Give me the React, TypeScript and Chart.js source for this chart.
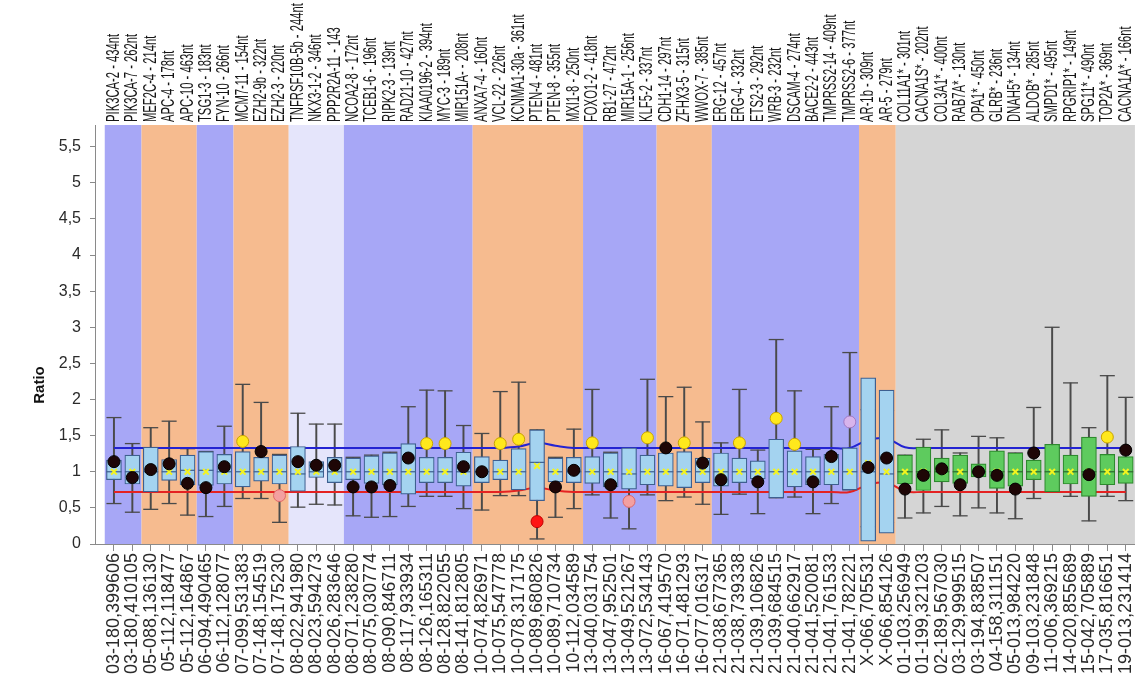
import React, { useEffect, useRef } from 'react';
import { Chart, registerables } from 'chart.js';

Chart.register(...registerables);

// ---- DATA ----
const positions = [
  '03-180,399606', '03-180,410105', '05-088,136130', '05-112,118477', '05-112,164867',
  '06-094,490465', '06-112,128077', '07-099,531383', '07-148,154519', '07-148,175230',
  '08-022,941980', '08-023,594273', '08-026,283646', '08-071,238280', '08-075,030774',
  '08-090,846711', '08-117,933934', '08-126,165311', '08-128,822055', '08-141,812805',
  '10-074,826971', '10-075,547778', '10-078,317175', '10-089,680826', '10-089,710734',
  '10-112,034589', '13-040,031754', '13-047,952501', '13-049,521267', '13-072,534143',
  '16-067,419570', '16-071,481293', '16-077,016317', '21-038,677365', '21-038,739338',
  '21-039,106826', '21-039,684515', '21-040,662917', '21-041,520081', '21-041,761533',
  '21-041,782221', 'X-066,705531', 'X-066,854126', '01-103,256949', '01-199,321203',
  '02-189,567030', '03-129,999515', '03-194,838507', '04-158,311151', '05-013,984220',
  '09-103,231848', '11-006,369215', '14-020,855689', '15-042,705889', '17-035,816651',
  '19-013,231414',
];

const genes = [
  'PIK3CA-2 - 434nt', 'PIK3CA-7 - 262nt', 'MEF2C-4 - 214nt', 'APC-4 - 178nt', 'APC-10 - 463nt',
  'TSG1-3 - 183nt', 'FYN-10 - 266nt', 'MCM7-11 - 154nt', 'EZH2-9b - 322nt', 'EZH2-3 - 220nt',
  'TNFRSF10B-5b - 244nt', 'NKX3-1-2 - 346nt', 'PPP2R2A-11 - 143', 'NCOA2-8 - 172nt', 'TCEB1-6 - 196nt',
  'RIPK2-3 - 139nt', 'RAD21-10 - 427nt', 'KIAA0196-2 - 394nt', 'MYC-3 - 189nt', 'MIR151A- - 208nt',
  'ANXA7-4 - 160nt', 'VCL-22 - 226nt', 'KCNMA1-30a - 361nt', 'PTEN-4 - 481nt', 'PTEN-8 - 355nt',
  'MXI1-8 - 250nt', 'FOXO1-2 - 418nt', 'RB1-27 - 472nt', 'MIR15A-1 - 256nt', 'KLF5-2 - 337nt',
  'CDH1-14 - 297nt', 'ZFHX3-5 - 315nt', 'WWOX-7 - 385nt', 'ERG-12 - 457nt', 'ERG-4 - 332nt',
  'ETS2-3 - 292nt', 'WRB-3 - 232nt', 'DSCAM-4 - 274nt', 'BACE2-2 - 443nt', 'TMPRSS2-14 - 409nt',
  'TMPRSS2-6 - 377nt', 'AR-1b - 309nt', 'AR-5 - 279nt', 'COL11A1* - 301nt', 'CACNA1S* - 202nt',
  'COL3A1* - 400nt', 'RAB7A* - 130nt', 'OPA1* - 450nt', 'GLRB* - 236nt', 'DNAH5* - 134nt',
  'ALDOB* - 285nt', 'SMPD1* - 495nt', 'RPGRIP1* - 149nt', 'SPG11* - 490nt', 'TOP2A* - 369nt',
  'CACNA1A* - 166nt',
];

const whiskerHigh = [
  1.75, 1.39, 1.61, 1.70, 1.32, 1.28, 1.63, 2.21, 1.96, 1.24,
  1.81, 1.66, 1.66, 1.20, 1.23, 1.27, 1.90, 2.13, 2.12, 1.64,
  1.53, 2.11, 2.24, 1.58, 1.20, 1.59, 2.14, 1.27, 1.33, 2.28,
  2.04, 2.17, 1.69, 1.40, 2.14, 1.30, 2.83, 2.12, 1.31, 1.90,
  2.65, 1.86, 1.85, 1.23, 1.45, 1.58, 1.26, 1.49, 1.47, 1.26,
  1.89, 3.00, 2.23, 1.61, 2.33, 2.03,
];
const whiskerLow = [
  0.56, 0.44, 0.48, 0.56, 0.40, 0.38, 0.52, 0.63, 0.63, 0.30,
  0.51, 0.55, 0.54, 0.39, 0.37, 0.38, 0.52, 0.66, 0.66, 0.49,
  0.47, 0.67, 0.67, 0.07, 0.37, 0.49, 0.68, 0.36, 0.21, 0.68,
  0.60, 0.65, 0.55, 0.41, 0.69, 0.42, 0.64, 0.65, 0.42, 0.56,
  0.75, 0.24, 0.30, 0.36, 0.43, 0.52, 0.39, 0.50, 0.43, 0.35,
  0.63, 0.72, 0.66, 0.32, 0.66, 0.60,
];
const boxHigh = [
  1.16, 1.23, 1.34, 1.17, 1.23, 1.28, 1.24, 1.28, 1.20, 1.23,
  1.35, 1.14, 1.20, 1.19, 1.22, 1.26, 1.39, 1.20, 1.20, 1.27,
  1.21, 1.16, 1.32, 1.58, 1.19, 1.20, 1.21, 1.26, 1.33, 1.23,
  1.26, 1.28, 1.19, 1.26, 1.19, 1.15, 1.45, 1.29, 1.21, 1.24,
  1.33, 2.30, 2.13, 1.23, 1.34, 1.19, 1.23, 1.11, 1.29, 1.26,
  1.16, 1.38, 1.23, 1.48, 1.24, 1.21,
];
const boxLow = [
  0.89, 0.83, 0.72, 0.88, 0.82, 0.81, 0.83, 0.79, 0.87, 0.83,
  0.73, 0.92, 0.85, 0.89, 0.84, 0.82, 0.69, 0.85, 0.85, 0.80,
  0.85, 0.89, 0.75, 0.60, 0.86, 0.85, 0.84, 0.79, 0.76, 0.82,
  0.80, 0.78, 0.85, 0.80, 0.85, 0.90, 0.64, 0.79, 0.82, 0.82,
  0.75, 0.04, 0.15, 0.83, 0.74, 0.86, 0.84, 0.93, 0.77, 0.80,
  0.89, 0.72, 0.83, 0.66, 0.82, 0.84,
];
const medians = [
  1.0, 1.0, 1.0, 1.0, 1.02, 1.02, 1.0, 1.0, 1.0, 1.0,
  0.97, 1.0, 1.0, 1.0, 1.0, 1.0, 1.0, 1.0, 1.0, 1.0,
  1.0, 1.0, 1.0, 1.13, 1.0, 1.0, 1.0, 1.0, 0.97, 1.0,
  1.0, 1.0, 1.0, 1.0, 1.0, 1.0, 1.0, 1.0, 1.0, 1.0,
  1.0, 1.0, 0.97, 1.0, 1.0, 1.0, 1.0, 1.0, 1.0, 1.0,
  1.0, 1.0, 1.0, 1.0, 1.0, 1.0,
];
const means = [
  1.0, 1.0, 1.0, 1.0, 1.0, 1.0, 1.0, 1.0, 1.0, 1.0,
  1.0, 1.0, 1.0, 1.0, 1.0, 1.0, 1.0, 1.0, 1.0, 1.0,
  1.0, 1.0, 1.0, 1.08, 1.0, 1.0, 1.0, 1.0, 1.0, 1.0,
  1.0, 1.0, 1.0, 1.0, 1.0, 1.0, 1.0, 1.0, 1.0, 1.0,
  1.0, 1.12, 1.0, 1.0, 1.0, 1.0, 1.0, 1.0, 1.0, 1.0,
  1.0, 1.0, 1.0, 1.0, 1.0, 1.0,
];
const samples = [
  1.14, 0.92, 1.03, 1.11, 0.84, 0.78, 1.07, 1.42, 1.28, 0.67,
  1.14, 1.09, 1.09, 0.79, 0.79, 0.81, 1.19, 1.39, 1.39, 1.07,
  1.00, 1.39, 1.45, 0.31, 0.79, 1.02, 1.40, 0.82, 0.59, 1.47,
  1.33, 1.40, 1.12, 0.89, 1.40, 0.86, 1.74, 1.38, 0.86, 1.21,
  1.69, 1.06, 1.19, 0.76, 0.95, 1.04, 0.82, 1.00, 0.95, 0.76,
  1.26, null, null, 0.96, 1.48, 1.30,
];
// n = normal, y = above limit, p = below limit (light), r = below limit (strong), v = violet
const sampleKind = [
  'n', 'n', 'n', 'n', 'n', 'n', 'n', 'y', 'n', 'p',
  'n', 'n', 'n', 'n', 'n', 'n', 'n', 'y', 'y', 'n',
  'n', 'y', 'y', 'r', 'n', 'n', 'y', 'n', 'p', 'y',
  'n', 'y', 'n', 'n', 'y', 'n', 'y', 'y', 'n', 'n',
  'v', 'n', 'n', 'n', 'n', 'n', 'n', 'n', 'n', 'n',
  'n', 'n', 'n', 'n', 'y', 'n',
];
const upperLimit = [
  1.33, 1.33, 1.33, 1.33, 1.33, 1.33, 1.33, 1.33, 1.33, 1.33,
  1.33, 1.33, 1.33, 1.33, 1.33, 1.33, 1.33, 1.33, 1.33, 1.33,
  1.33, 1.33, 1.35, 1.40, 1.36, 1.33, 1.33, 1.33, 1.33, 1.33,
  1.33, 1.33, 1.33, 1.33, 1.33, 1.33, 1.33, 1.33, 1.33, 1.33,
  1.33, 1.44, 1.46, 1.34, 1.33, 1.33, 1.33, 1.33, 1.33, 1.33,
  1.33, 1.33, 1.33, 1.33, 1.33, 1.33,
];
const lowerLimit = [
  0.72, 0.72, 0.72, 0.72, 0.72, 0.72, 0.72, 0.72, 0.72, 0.72,
  0.72, 0.72, 0.72, 0.72, 0.72, 0.72, 0.72, 0.72, 0.72, 0.72,
  0.72, 0.72, 0.74, 0.78, 0.74, 0.72, 0.72, 0.72, 0.72, 0.72,
  0.72, 0.72, 0.72, 0.72, 0.72, 0.72, 0.72, 0.72, 0.72, 0.72,
  0.72, 0.82, 0.85, 0.73, 0.72, 0.72, 0.72, 0.72, 0.72, 0.72,
  0.72, 0.72, 0.72, 0.72, 0.72, 0.72,
];
// background groups: [first index, last index, group kind]
const bandGroups: [number, number, string][] = [
  [0, 1, 'blue'], [2, 4, 'orange'], [5, 6, 'blue'], [7, 9, 'orange'], [10, 12, 'lavender'],
  [13, 19, 'blue'], [20, 25, 'orange'], [26, 29, 'blue'], [30, 32, 'orange'], [33, 40, 'blue'],
  [41, 42, 'orange'], [43, 55, 'gray'],
];
const controlStart = 43; // from here on, control amplicons (green boxes)
const yAxisMax = 5.8;

// ---- STYLES ----
const FONT = "'Liberation Sans', Arial, sans-serif";
const BAND_COLORS: Record<string, string> = {
  blue: '#a7a7f6',
  orange: '#f6bb8f',
  lavender: '#e5e5fb',
  gray: '#d5d5d5',
};
const DOT_FILL: Record<string, string> = { n: '#1e0606', y: '#ffe81c', p: '#f3a0a0', r: '#ff1414', v: '#d8b4ec' };
const DOT_BORDER: Record<string, string> = { n: '#000000', y: '#c9a300', p: '#e06868', r: '#c00000', v: '#a27ac4' };

export default function App() {
  const ref = useRef<HTMLCanvasElement>(null);

  useEffect(() => {
    if (!ref.current) return;
    const idx = positions.map((_, i) => i);

    const bandsPlugin = {
      id: 'bands',
      beforeDraw(chart: any) {
        const { ctx, scales } = chart;
        const x = scales.x, y = scales.y;
        ctx.save();
        ctx.fillStyle = '#ffffff';
        ctx.fillRect(0, 0, chart.width, chart.height);
        const yTop = y.getPixelForValue(yAxisMax);
        const yBot = y.getPixelForValue(0);
        for (const [a, b, kind] of bandGroups) {
          const x0 = x.getPixelForValue(a - 0.5);
          const x1 = x.getPixelForValue(b + 0.5);
          ctx.fillStyle = BAND_COLORS[kind];
          ctx.fillRect(x0, yTop, x1 - x0, yBot - yTop);
        }
        ctx.restore();
      },
    };

    const textPlugin = {
      id: 'texts',
      afterDraw(chart: any) {
        const { ctx, chartArea, scales } = chart;
        const x = scales.x;
        ctx.save();
        ctx.fillStyle = '#151515';
        ctx.font = `18px ${FONT}`;
        ctx.textAlign = 'left';
        ctx.textBaseline = 'middle';
        genes.forEach((g, i) => {
          const px = x.getPixelForValue(i);
          ctx.save();
          ctx.translate(px, chartArea.top - 3);
          ctx.rotate(-Math.PI / 2);
          ctx.scale(0.625, 1);
          ctx.fillText(g, 0, 0);
          ctx.restore();
        });
        ctx.save();
        ctx.font = `bold 15px ${FONT}`;
        ctx.fillStyle = '#111';
        ctx.textAlign = 'center';
        ctx.translate(40, 385);
        ctx.rotate(-Math.PI / 2);
        ctx.fillText('Ratio', 0, 0);
        ctx.restore();
        ctx.restore();
      },
    };

    const boxFill = idx.map((i) => (i >= controlStart ? '#5ecb5e' : '#a4d3f0'));
    const boxBorder = idx.map((i) => (i >= controlStart ? '#2e8a2e' : '#3e5f90'));
    const medColor = idx.map((i) => (i >= controlStart ? '#2e6a2e' : '#3e5f90'));

    const chart = new Chart(ref.current, {
      type: 'bar',
      data: {
        datasets: [
          {
            type: 'bar',
            data: idx.map((i) => ({ x: i, y: [whiskerLow[i], whiskerHigh[i]] })) as any,
            backgroundColor: '#4a4a4a',
            barThickness: 1.3,
            grouped: false,
            order: 7,
          } as any,
          {
            type: 'scatter',
            data: idx.flatMap((i) => [
              { x: i, y: whiskerHigh[i] },
              { x: i, y: whiskerLow[i] },
            ]),
            pointStyle: 'line',
            pointRadius: 7.5,
            pointBorderColor: '#4a4a4a',
            pointBorderWidth: 1.3,
            order: 6,
          } as any,
          {
            type: 'line',
            data: idx.map((i) => ({ x: i, y: upperLimit[i] })),
            borderColor: '#2323d2',
            borderWidth: 2,
            pointRadius: 0,
            tension: 0.4,
            order: 5,
          } as any,
          {
            type: 'line',
            data: idx.map((i) => ({ x: i, y: lowerLimit[i] })),
            borderColor: '#e42222',
            borderWidth: 2,
            pointRadius: 0,
            tension: 0.4,
            order: 5,
          } as any,
          {
            type: 'bar',
            data: idx.map((i) => ({ x: i, y: [boxLow[i], boxHigh[i]] })) as any,
            backgroundColor: boxFill,
            borderColor: boxBorder,
            borderWidth: 1.2,
            borderSkipped: false,
            barThickness: 15,
            grouped: false,
            order: 3,
          } as any,
          {
            type: 'scatter',
            data: idx.map((i) => ({ x: i, y: medians[i] })),
            pointStyle: 'line',
            pointRadius: 7.5,
            pointBorderColor: medColor,
            pointBorderWidth: 1.2,
            order: 2,
          } as any,
          {
            type: 'scatter',
            data: idx.map((i) => ({ x: i, y: means[i] })),
            pointStyle: 'crossRot',
            pointRadius: 4,
            pointBorderColor: '#f4f41e',
            pointBorderWidth: 2,
            order: 1,
          } as any,
          {
            type: 'scatter',
            data: idx.map((i) => ({ x: i, y: samples[i] })),
            pointStyle: 'circle',
            pointRadius: 6,
            pointBackgroundColor: idx.map((i) => DOT_FILL[sampleKind[i]]),
            pointBorderColor: idx.map((i) => DOT_BORDER[sampleKind[i]]),
            pointBorderWidth: 1,
            order: 0,
          } as any,
        ],
      },
      options: {
        responsive: false,
        animation: false,
        devicePixelRatio: 1,
        events: [],
        layout: { autoPadding: false, padding: { top: 125, right: 1, left: 0, bottom: 0 } },
        plugins: {
          legend: { display: false },
          tooltip: { enabled: false },
          title: { display: false },
        },
        scales: {
          x: {
            type: 'linear',
            position: 'bottom',
            min: -1.03,
            max: 55.45,
            offset: false,
            afterBuildTicks: (scale: any) => {
              scale.ticks = idx.map((v) => ({ value: v }));
            },
            afterFit: (scale: any) => {
              scale.height = 139;
              scale.paddingLeft = 0;
              scale.paddingRight = 0;
            },
            grid: { drawOnChartArea: false, drawTicks: true, tickLength: 7, color: '#8a8a8a', offset: false },
            border: { display: true, color: '#8a8a8a' },
            ticks: {
              autoSkip: false,
              maxRotation: 90,
              minRotation: 90,
              padding: 2,
              color: '#2a2a2a',
              font: { size: 18, family: FONT },
              callback: (v: any) => positions[Math.round(Number(v))] ?? '',
            },
          },
          y: {
            type: 'linear',
            min: 0,
            max: yAxisMax,
            afterFit: (scale: any) => {
              scale.width = 95;
            },
            grid: { drawOnChartArea: false, drawTicks: true, tickLength: 5, color: '#8a8a8a' },
            border: { display: true, color: '#8a8a8a' },
            title: { display: false },
            ticks: {
              stepSize: 0.5,
              includeBounds: false,
              padding: 9,
              color: '#2a2a2a',
              font: { size: 16, family: FONT },
              callback: (v: any) => String(Math.round(Number(v) * 10) / 10).replace('.', ','),
            },
          },
        },
      } as any,
      plugins: [bandsPlugin, textPlugin],
    });

    return () => chart.destroy();
  }, []);

  return (
    <div style={{ position: 'fixed', left: 0, top: 0, width: 1135, height: 683, background: '#fff' }}>
      <canvas ref={ref} width={1135} height={683} style={{ display: 'block' }} />
    </div>
  );
}
